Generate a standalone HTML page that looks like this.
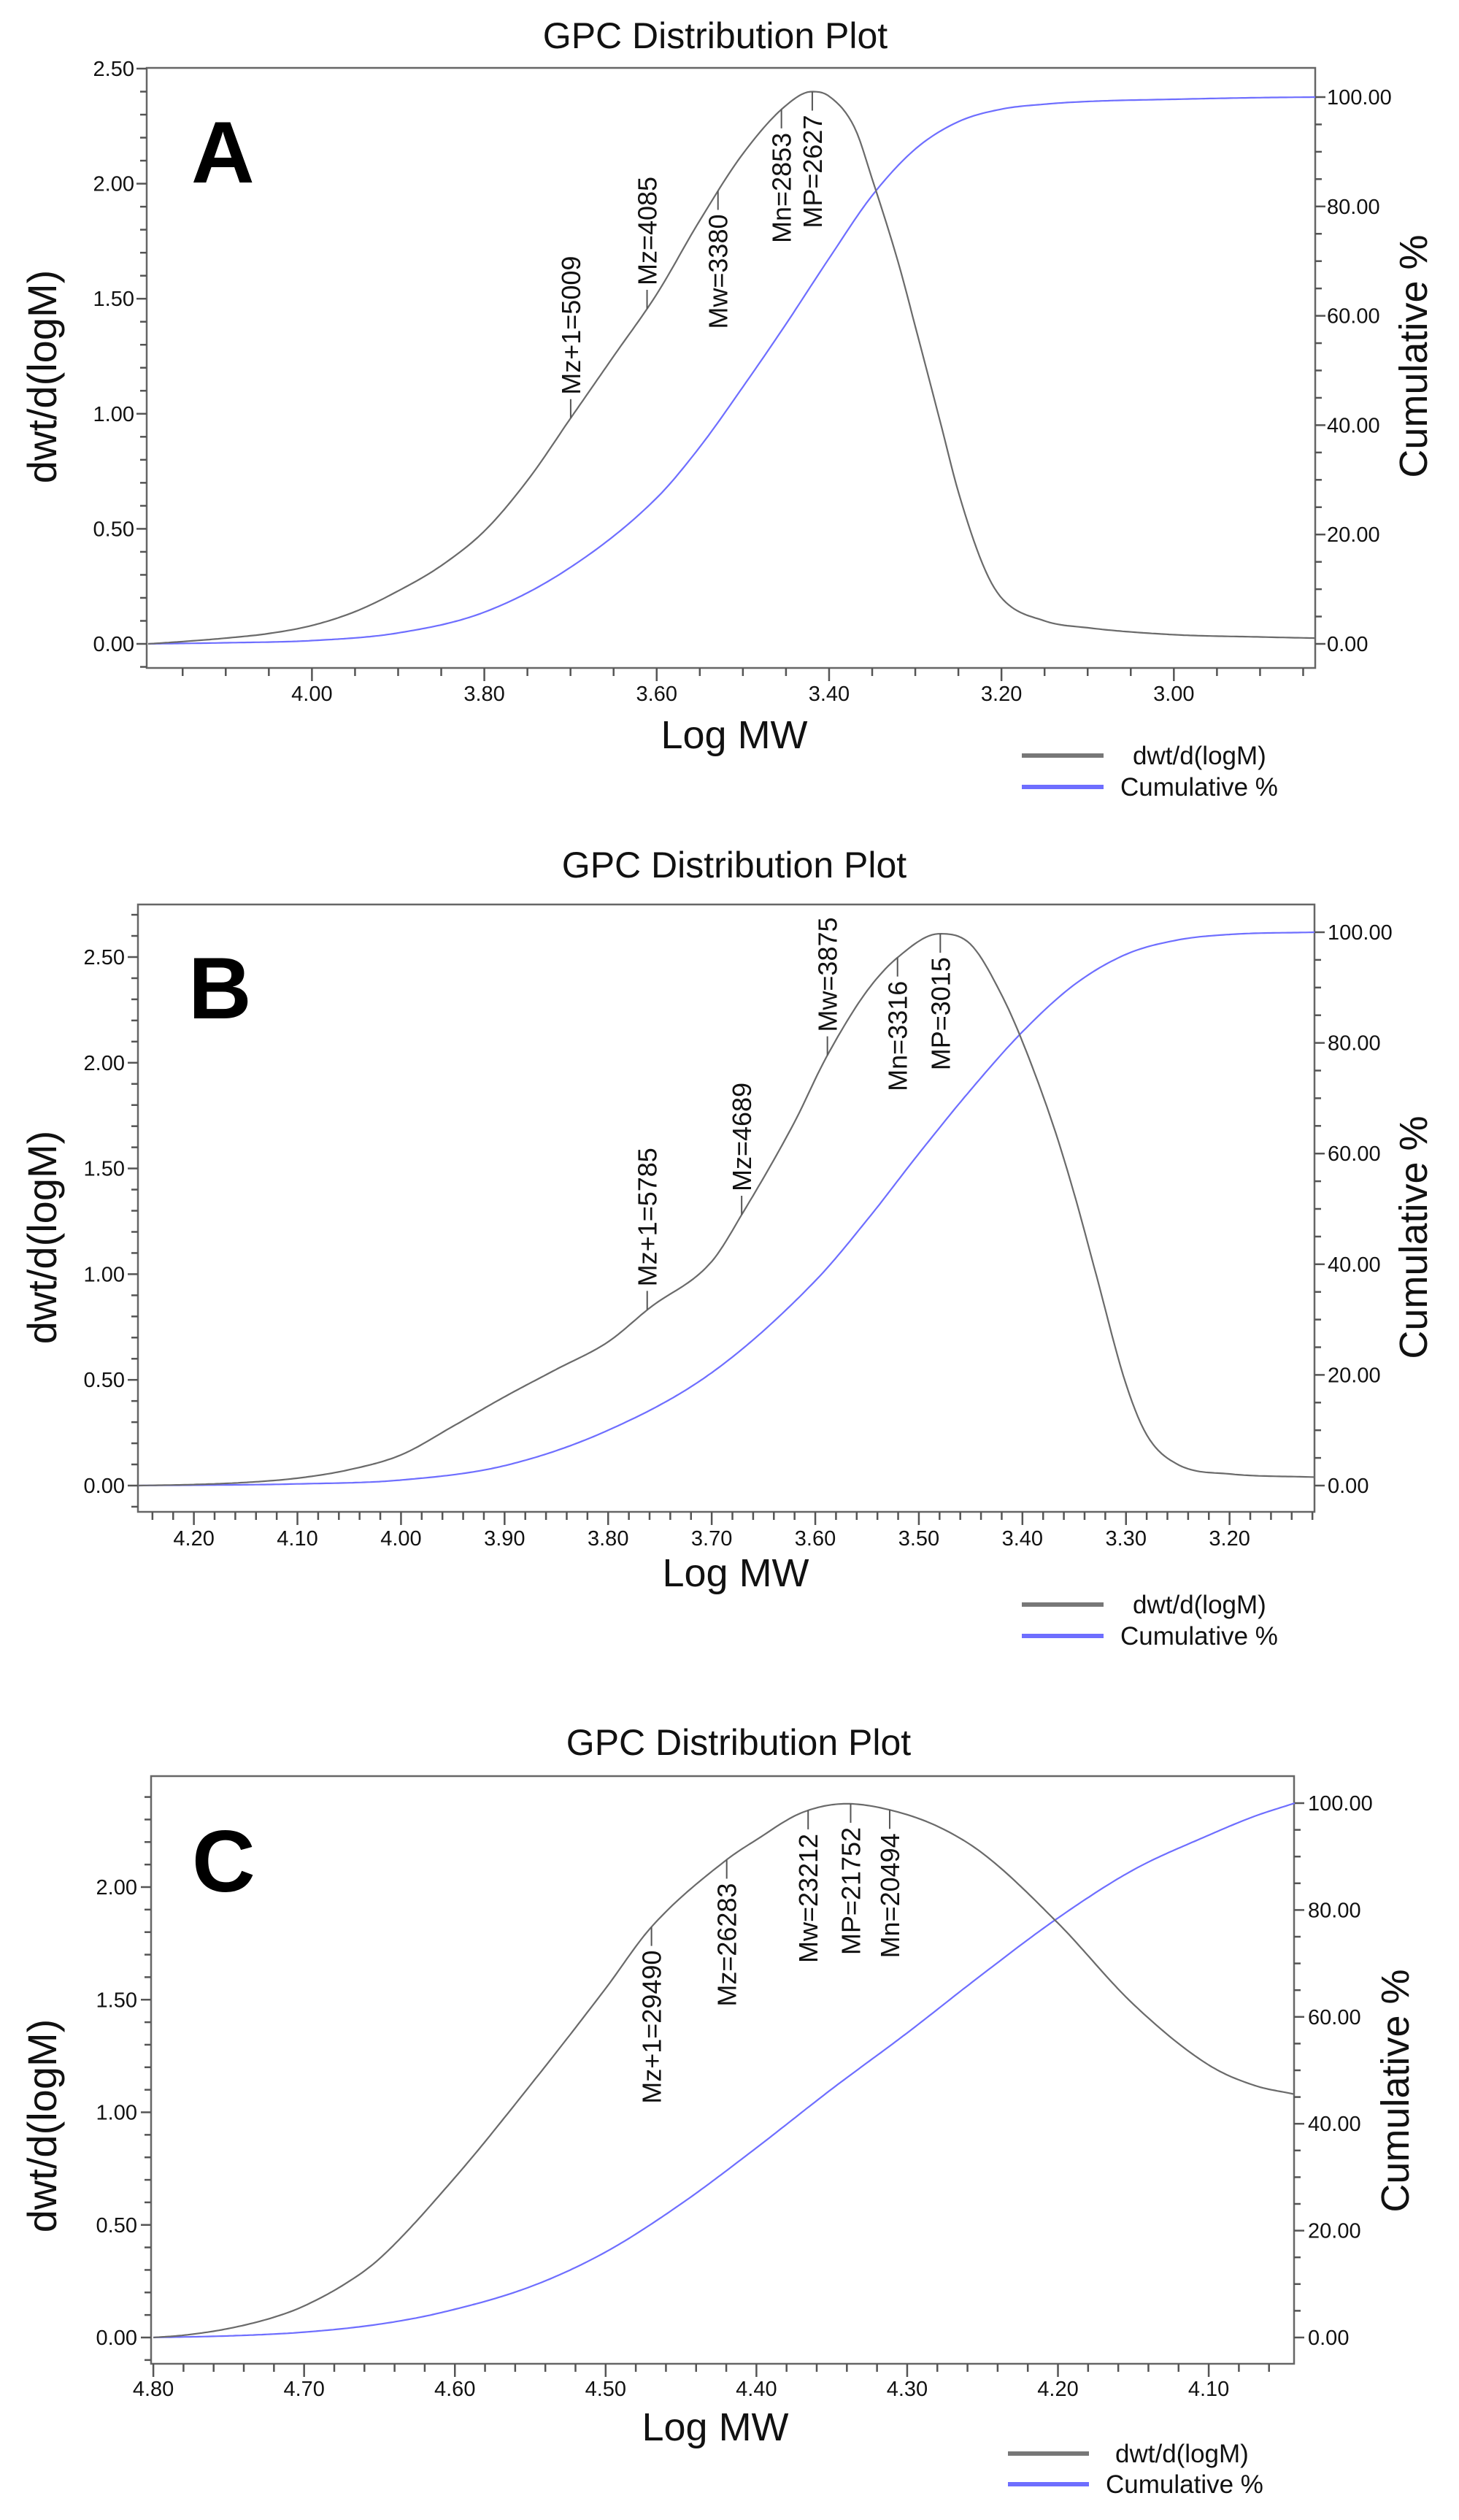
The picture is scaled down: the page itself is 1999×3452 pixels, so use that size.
<!DOCTYPE html>
<html><head><meta charset="utf-8"><title>GPC Distribution Plots</title>
<style>
html,body{margin:0;padding:0;background:#fff;}
svg{display:block;}
text{font-family:"Liberation Sans",Arial,sans-serif;fill:#111;}
</style></head>
<body>
<svg id="chart" xmlns="http://www.w3.org/2000/svg" width="1999" height="3452" viewBox="0 0 1999 3452"></svg>
<script>
// ---------- Panel A data ----------
const aLogM = [4.19,4.15,4.10,4.05,4.00,3.95,3.90,3.85,3.80,3.75,3.70,3.65,3.60,3.55,3.50,3.45,3.42,3.40,3.37,3.35,3.32,3.30,3.27,3.25,3.22,3.20,3.15,3.10,3.00,2.90,2.836];
const aDwt  = [0.00,0.01,0.025,0.045,0.08,0.14,0.23,0.34,0.49,0.71,0.98,1.25,1.52,1.84,2.13,2.34,2.40,2.38,2.24,2.02,1.66,1.38,0.95,0.66,0.33,0.20,0.10,0.07,0.04,0.03,0.025];
const aCumLogM = [4.19,4.10,4.00,3.90,3.80,3.70,3.60,3.55,3.50,3.45,3.40,3.35,3.30,3.25,3.20,3.15,3.10,3.00,2.90,2.836];
const aCum      = [0,0.2,0.6,2,5.8,14,26.7,36,47,58.5,70.5,82,90.5,95.5,97.8,98.7,99.2,99.6,99.9,100];
const aMarkLabels = ["Mz+1=5009","Mz=4085","Mw=3380","Mn=2853","MP=2627"];
const aMarkLogM   = [3.6998,3.6112,3.5289,3.4553,3.4195];
const aMarkDir    = ["up","up","down","down","down"];

// ---------- Panel B data ----------
const bLogM = [4.254,4.20,4.15,4.10,4.05,4.00,3.95,3.90,3.85,3.80,3.76,3.70,3.67,3.62,3.59,3.55,3.52,3.48,3.45,3.42,3.40,3.37,3.35,3.33,3.30,3.28,3.25,3.20,3.118];
const bDwt  = [0.00,0.005,0.015,0.035,0.075,0.145,0.28,0.42,0.55,0.68,0.84,1.06,1.29,1.72,2.02,2.34,2.50,2.61,2.56,2.32,2.10,1.70,1.38,1.02,0.48,0.24,0.10,0.055,0.04];
const bCumLogM = [4.254,4.10,4.00,3.90,3.80,3.70,3.60,3.55,3.50,3.45,3.40,3.35,3.30,3.25,3.20,3.118];
const bCum      = [0,0.3,1.0,3.6,10,20.4,37,48,60,71.5,82,90.5,96,98.6,99.6,100];
const bMarkLabels = ["Mz+1=5785","Mz=4689","Mw=3875","Mn=3316","MP=3015"];
const bMarkLogM   = [3.7623,3.6711,3.5883,3.5206,3.4793];
const bMarkDir    = ["up","up","up","down","down"];

// ---------- Panel C data ----------
const cLogM = [4.80,4.78,4.75,4.72,4.70,4.67,4.65,4.60,4.55,4.50,4.47,4.42,4.40,4.37,4.34,4.31,4.28,4.25,4.20,4.15,4.10,4.07,4.043];
const cDwt  = [0.00,0.01,0.04,0.09,0.14,0.25,0.35,0.71,1.12,1.55,1.82,2.12,2.21,2.33,2.37,2.34,2.27,2.15,1.84,1.48,1.21,1.12,1.08];
const cCumLogM = [4.80,4.75,4.70,4.65,4.61,4.55,4.50,4.45,4.40,4.35,4.30,4.25,4.20,4.15,4.10,4.07,4.043];
const cCum      = [0,0.3,1,2.5,4.6,9.5,16,25,35.5,46.5,57,68,78.5,87.5,94,97.5,100];
const cMarkLabels = ["Mz+1=29490","Mz=26283","Mw=23212","MP=21752","Mn=20494"];
const cMarkLogM   = [4.4696,4.4197,4.3657,4.3375,4.3116];
const cMarkDir    = ["down","down","down","down","down"];

const leftTicksAB = [0,0.5,1,1.5,2,2.5];
const leftTickLabelsAB = ["0.00","0.50","1.00","1.50","2.00","2.50"];
const leftTicksC = [0,0.5,1,1.5,2];
const leftTickLabelsC = ["0.00","0.50","1.00","1.50","2.00"];
const rightTicks = [0,20,40,60,80,100];
const rightTickLabels = ["0.00","20.00","40.00","60.00","80.00","100.00"];
const xTicksA = [4.0,3.8,3.6,3.4,3.2,3.0];
const xTickLabelsA = ["4.00","3.80","3.60","3.40","3.20","3.00"];
const xTicksB = [4.2,4.1,4.0,3.9,3.8,3.7,3.6,3.5,3.4,3.3,3.2];
const xTickLabelsB = ["4.20","4.10","4.00","3.90","3.80","3.70","3.60","3.50","3.40","3.30","3.20"];
const xTicksC = [4.8,4.7,4.6,4.5,4.4,4.3,4.2,4.1];
const xTickLabelsC = ["4.80","4.70","4.60","4.50","4.40","4.30","4.20","4.10"];

const NS = "http://www.w3.org/2000/svg";
const svg = document.getElementById("chart");
function el(tag, attrs, parent){ const e=document.createElementNS(NS,tag); for(const k in attrs) e.setAttribute(k,attrs[k]); (parent||svg).appendChild(e); return e; }
function txt(s, attrs, parent){ const t=el("text",attrs,parent); t.textContent=s; return t; }

// monotone cubic (Fritsch-Carlson) in data space
function monotone(xsIn, ysIn){
  let xs=xsIn.slice(), ys=ysIn.slice();
  if(xs[0]>xs[xs.length-1]){ xs.reverse(); ys.reverse(); }
  const n=xs.length, d=[], m=new Array(n);
  for(let i=0;i<n-1;i++) d.push((ys[i+1]-ys[i])/(xs[i+1]-xs[i]));
  m[0]=d[0]; m[n-1]=d[n-2];
  for(let i=1;i<n-1;i++){ m[i]=(d[i-1]*d[i]<=0)?0:(d[i-1]+d[i])/2; }
  for(let i=0;i<n-1;i++){
    if(d[i]===0){ m[i]=0; m[i+1]=0; continue; }
    const a=m[i]/d[i], b=m[i+1]/d[i], s=a*a+b*b;
    if(s>9){ const t=3/Math.sqrt(s); m[i]=t*a*d[i]; m[i+1]=t*b*d[i]; }
  }
  return function(x){
    let i=0; while(i<n-2 && x>xs[i+1]) i++;
    const h=xs[i+1]-xs[i], t=(x-xs[i])/h, t2=t*t, t3=t2*t;
    return (2*t3-3*t2+1)*ys[i]+(t3-2*t2+t)*h*m[i]+(-2*t3+3*t2)*ys[i+1]+(t3-t2)*h*m[i+1];
  };
}

function panel(cfg){
  const g = el("g",{});
  
  
  const X = v => cfg.l + (cfg.x0 - v)/(cfg.x0 - cfg.x1)*(cfg.r - cfg.l);
  const YL = v => cfg.y0 - v*cfg.ky;
  const YR = p => cfg.r0 - p*(cfg.r0 - cfg.r100)/100;

  const title = txt("GPC Distribution Plot",{x:cfg.titleX,y:cfg.titleY,"font-size":50,"text-anchor":"middle"},g);
  
  

  const frame = el("rect",{x:cfg.l,y:cfg.t,width:cfg.r-cfg.l,height:cfg.b-cfg.t,fill:"none",stroke:"#666","stroke-width":2.5},g);
  
  

  const vMin=(cfg.y0-cfg.b)/cfg.ky, vMax=(cfg.y0-cfg.t)/cfg.ky;
  for(let k=Math.ceil(vMin*10);k<=Math.floor(vMax*10);k++){
    const v=k/10, y=YL(v), major=(k%5===0);
    const tk=el("line",{x1:cfg.l-(major?14:9),x2:cfg.l,y1:y,y2:y,stroke:"#555","stroke-width":2.5},g);
    
    
  }
  cfg.lt.forEach((v,i)=>{
    const t=txt(cfg.ltl[i],{x:cfg.llx,y:YL(v)+10,"font-size":29,"text-anchor":"end"},g);
    
    
  });
  for(let p=0;p<=100;p+=5){
    const y=YR(p), major=(p%20===0);
    if(y<cfg.t-1) continue;
    const tk=el("line",{x1:cfg.r,x2:cfg.r+(major?14:9),y1:y,y2:y,stroke:"#555","stroke-width":2.5},g);
    
    
  }
  rightTicks.forEach((p,i)=>{
    const t=txt(rightTickLabels[i],{x:cfg.rlx,y:YR(p)+10,"font-size":29},g);
    
    
  });
  const step=cfg.xminor;
  const lo=Math.min(cfg.x0,cfg.x1), hi=Math.max(cfg.x0,cfg.x1);
  for(let k=Math.ceil(lo/step-1e-6);k<=Math.floor(hi/step+1e-6);k++){
    const v=k*step, x=X(v);
    const major=Math.abs(Math.round(v*10)-v*10)<1e-6 && (cfg.xmajor===0.1 || Math.round(v*10)%2===0);
    const tk=el("line",{x1:x,x2:x,y1:cfg.b,y2:cfg.b+(major?18:11),stroke:"#555","stroke-width":2.5},g);
    
    
  }
  cfg.xt.forEach((v,i)=>{
    const t=txt(cfg.xtl[i],{x:X(v),y:cfg.xly,"font-size":29,"text-anchor":"middle"},g);
    
    
  });
  const xt=txt("Log MW",{x:cfg.xTitleX,y:cfg.xTitleY,"font-size":54,"text-anchor":"middle"},g);
  
  
  const yt=txt("dwt/d(logM)",{x:0,y:0,"font-size":56,"text-anchor":"middle",transform:"translate(77,"+cfg.yTitleY+") rotate(-90)"},g);
  
  
  const rt=txt("Cumulative %",{x:0,y:0,"font-size":54,"text-anchor":"middle",transform:"translate("+cfg.rTitleX+","+cfg.rTitleY+") rotate(-90)"},g);
  
  

  const letter=txt(cfg.letter,{x:cfg.letX,y:cfg.letY,"font-size":120,"font-weight":"bold",style:"fill:#000"},g);
  
  

  function curve(xs, ys, Y){
    const f=monotone(xs,ys);
    const a=xs[0], b=xs[xs.length-1], N=400;
    let d="";
    for(let i=0;i<=N;i++){ const v=a+(b-a)*i/N; d+=(i?" L":"M")+X(v).toFixed(1)+","+Y(f(v)).toFixed(1); }
    return d;
  }
  const cum=el("path",{d:curve(cfg.cumX,cfg.cumY,YR),fill:"none",stroke:"#6e6eff","stroke-width":2.2,"stroke-linejoin":"round"},g);
  
  
  const dwt=el("path",{d:curve(cfg.dX,cfg.dY,YL),fill:"none",stroke:"#6a6a6a","stroke-width":2.2,"stroke-linejoin":"round"},g);
  
  

  const fd=monotone(cfg.dX,cfg.dY);
  cfg.mL.forEach((lab,i)=>{
    const mx=X(cfg.mX[i]), my=YL(fd(cfg.mX[i]));
    const up=cfg.mD[i]==="up";
    const y2=up?my-26:my+26;
    const ln=el("line",{x1:mx,x2:mx,y1:my,y2:y2,stroke:"#555","stroke-width":2},g);
    
    
    const ty=up?y2-6:y2+6;
    const t=txt(lab,{x:0,y:0,"font-size":36,"text-anchor":up?"start":"end",transform:"translate("+(mx+13)+","+ty+") rotate(-90)"},g);
    
    
  });

  const l1=el("line",{x1:cfg.legX1,x2:cfg.legX2,y1:cfg.legY1,y2:cfg.legY1,stroke:"#777","stroke-width":6},g);
  
  
  const t1=txt("dwt/d(logM)",{x:cfg.legT1,y:cfg.legY1+12,"font-size":35},g);
  
  
  const l2=el("line",{x1:cfg.legX1,x2:cfg.legX2,y1:cfg.legY2,y2:cfg.legY2,stroke:"#6e6eff","stroke-width":6},g);
  
  
  const t2=txt("Cumulative %",{x:cfg.legT2,y:cfg.legY2+12,"font-size":35},g);
  
  
}

panel({id:"a",letter:"A",l:201,r:1802,t:93,b:915,x0:4.1917,x1:2.836,y0:882,ky:315.2,r0:882,r100:133,
  lt:leftTicksAB,ltl:leftTickLabelsAB,llx:184,rlx:1818,xt:xTicksA,xtl:xTickLabelsA,xminor:0.05,xmajor:0.2,xly:960,
  titleX:980,titleY:66,xTitleX:1006,xTitleY:1025,yTitleY:516,rTitleX:1955,rTitleY:488,letX:262,letY:250,
  dX:aLogM,dY:aDwt,cumX:aCumLogM,cumY:aCum,mL:aMarkLabels,mX:aMarkLogM,mD:aMarkDir,
  legX1:1400,legX2:1512,legY1:1035,legY2:1078,legT1:1552,legT2:1535});
panel({id:"b",letter:"B",l:189,r:1801,t:1239,b:2071,x0:4.254,x1:3.118,y0:2035,ky:289.6,r0:2035,r100:1277,
  lt:leftTicksAB,ltl:leftTickLabelsAB,llx:171,rlx:1819,xt:xTicksB,xtl:xTickLabelsB,xminor:0.02,xmajor:0.1,xly:2117,
  titleX:1006,titleY:1202,xTitleX:1008,xTitleY:2173,yTitleY:1695,rTitleX:1955,rTitleY:1695,letX:258,letY:1395,
  dX:bLogM,dY:bDwt,cumX:bCumLogM,cumY:bCum,mL:bMarkLabels,mX:bMarkLogM,mD:bMarkDir,
  legX1:1400,legX2:1512,legY1:2198,legY2:2241,legT1:1552,legT2:1535});
panel({id:"c",letter:"C",l:207,r:1773,t:2433,b:3238,x0:4.8015,x1:4.0434,y0:3202,ky:308.5,r0:3202,r100:2470,
  lt:leftTicksC,ltl:leftTickLabelsC,llx:188,rlx:1792,xt:xTicksC,xtl:xTickLabelsC,xminor:0.02,xmajor:0.1,xly:3282,
  titleX:1012,titleY:2404,xTitleX:980,xTitleY:3343,yTitleY:2912,rTitleX:1930,rTitleY:2864,letX:263,letY:2591,
  dX:cLogM,dY:cDwt,cumX:cCumLogM,cumY:cCum,mL:cMarkLabels,mX:cMarkLogM,mD:cMarkDir,
  legX1:1381,legX2:1492,legY1:3361,legY2:3403,legT1:1528,legT2:1515});
</script>
</body></html>
